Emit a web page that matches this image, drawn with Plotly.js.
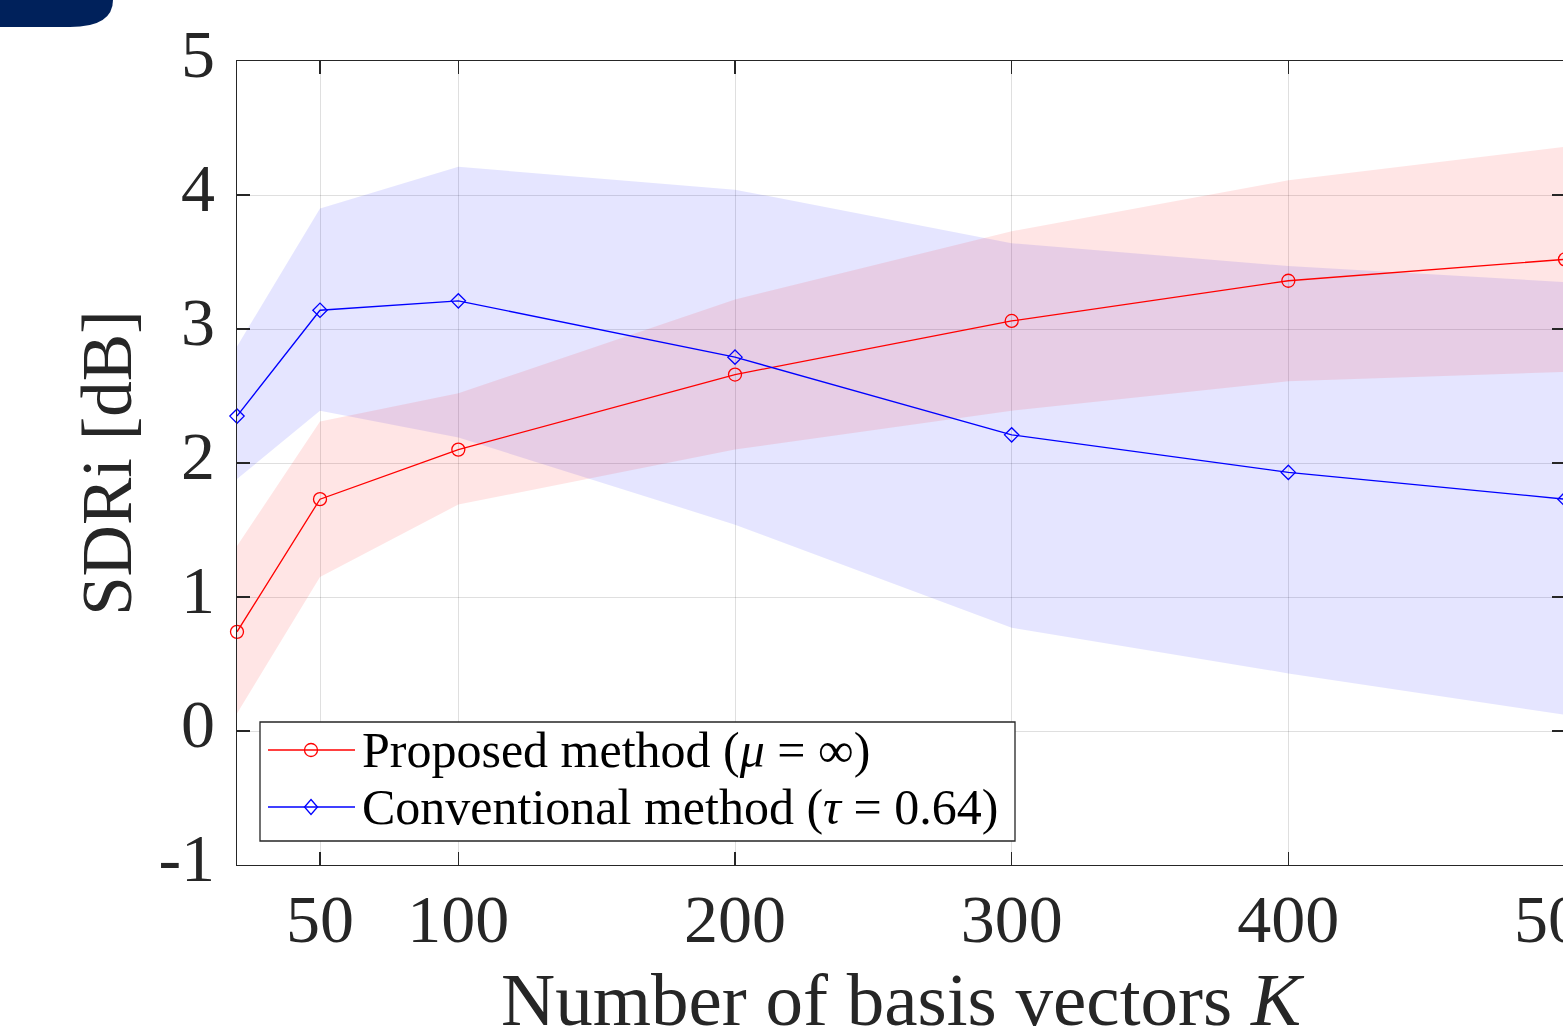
<!DOCTYPE html>
<html>
<head>
<meta charset="utf-8">
<script src="https://cdn.plot.ly/plotly-3.0.1.min.js"></script>
<style>
html, body { margin: 0; padding: 0; overflow: hidden; background: #fff; }
#chart { width: 1565px; height: 1060px; }
</style>
</head>
<body>
<div id="chart"></div>
<script>
// ---- data ----
const K = [20, 50, 100, 200, 300, 400, 500];

const proposedMean  = [0.74, 1.73, 2.10, 2.66, 3.06, 3.36, 3.52];
const proposedUpper = [1.38, 2.31, 2.52, 3.22, 3.73, 4.11, 4.36];
const proposedLower = [0.13, 1.15, 1.69, 2.10, 2.39, 2.61, 2.68];

const conventionalMean  = [2.35, 3.14, 3.21, 2.79, 2.21, 1.93, 1.73];
const conventionalUpper = [2.87, 3.90, 4.21, 4.04, 3.64, 3.47, 3.35];
const conventionalLower = [1.88, 2.39, 2.19, 1.54, 0.77, 0.43, 0.12];

const xTickVals = [50, 100, 200, 300, 400, 500];
const xTickText = ['50', '100', '200', '300', '400', '500'];
const yTickVals = [-1, 0, 1, 2, 3, 4, 5];
const yTickText = ['-1', '0', '1', '2', '3', '4', '5'];

const legendLabels = [
  'Proposed method (<i>μ</i> = ∞)',
  'Conventional method (<i>τ</i> = 0.64)'
];
const xTitle = 'Number of basis vectors <i>K</i>';
const yTitle = 'SDRi [dB]';

// ---- style ----
const FONT = 'Liberation Serif, Times New Roman, serif';
const AX = '#262626';
const RED = '#FF0000';
const BLUE = '#0000FF';

function band(xs, up, lo) {
  return { x: xs.concat(xs.slice().reverse()), y: up.concat(lo.slice().reverse()) };
}
const pb = band(K, proposedUpper, proposedLower);
const cb = band(K, conventionalUpper, conventionalLower);

const traces = [
  { x: cb.x, y: cb.y, type: 'scatter', mode: 'lines', fill: 'toself',
    fillcolor: 'rgba(0,0,255,0.1)', line: { width: 0 }, hoverinfo: 'skip', showlegend: false },
  { x: pb.x, y: pb.y, type: 'scatter', mode: 'lines', fill: 'toself',
    fillcolor: 'rgba(255,0,0,0.1)', line: { width: 0 }, hoverinfo: 'skip', showlegend: false },
  { x: K, y: proposedMean, type: 'scatter', mode: 'lines+markers', cliponaxis: false,
    line: { color: RED, width: 1.3 },
    marker: { symbol: 'circle-open', size: 13, color: RED, line: { width: 1.3, color: RED } },
    showlegend: false, hoverinfo: 'skip' },
  { x: K, y: conventionalMean, type: 'scatter', mode: 'lines+markers', cliponaxis: false,
    line: { color: BLUE, width: 1.3 },
    marker: { symbol: 'diamond-open', size: 11, color: BLUE, line: { width: 1.3, color: BLUE } },
    showlegend: false, hoverinfo: 'skip' }
];

// plot-area geometry in pixels (for legend box / decoration placement)
const W = 1565, H = 1060;
const L = 237, T = 61, PW = 1328, PH = 804;
const px = v => (v - L) / PW;
const py = v => (T + PH - v) / PH;

const legendRows = [
  { yc: 750, color: RED, kind: 'circle' },
  { yc: 807, color: BLUE, kind: 'diamond' }
];

const shapes = [
  // top-left badge decoration
  { type: 'path', xref: 'paper', yref: 'paper', layer: 'above',
    path: `M${px(0)},${py(0)} L${px(113)},${py(0)} Q${px(113)},${py(27)} ${px(70)},${py(27)} L${px(0)},${py(27)} Z`,
    fillcolor: '#00215B', line: { width: 0 } },
  // legend box
  { type: 'rect', xref: 'paper', yref: 'paper', layer: 'above',
    x0: px(260), x1: px(1015), y0: py(841), y1: py(722),
    fillcolor: '#FFFFFF', line: { color: AX, width: 1.3 } }
];
const annotations = [];
legendRows.forEach((r, i) => {
  shapes.push({ type: 'line', xref: 'paper', yref: 'paper', layer: 'above',
    x0: px(268), x1: px(355), y0: py(r.yc), y1: py(r.yc), line: { color: r.color, width: 1.3 } });
  if (r.kind === 'circle') {
    shapes.push({ type: 'circle', xref: 'paper', yref: 'paper', layer: 'above',
      xsizemode: 'pixel', ysizemode: 'pixel', xanchor: px(311), yanchor: py(r.yc),
      x0: -6.5, x1: 6.5, y0: -6.5, y1: 6.5, fillcolor: 'rgba(0,0,0,0)', line: { color: r.color, width: 1.3 } });
  } else {
    shapes.push({ type: 'path', xref: 'paper', yref: 'paper', layer: 'above',
      xsizemode: 'pixel', ysizemode: 'pixel', xanchor: px(311), yanchor: py(r.yc),
      path: 'M0,7.5 L6.5,0 L0,-7.5 L-6.5,0 Z', fillcolor: 'rgba(0,0,0,0)', line: { color: r.color, width: 1.3 } });
  }
  annotations.push({ xref: 'paper', yref: 'paper', x: px(360), y: py(r.yc),
    xanchor: 'left', yanchor: 'middle', showarrow: false, text: legendLabels[i],
    font: { family: FONT, size: 50, color: '#000000' } });
});

const layout = {
  width: W, height: H, autosize: false,
  margin: { l: L, r: W - L - PW, t: T, b: H - T - PH, pad: 0 },
  paper_bgcolor: '#FFFFFF', plot_bgcolor: '#FFFFFF',
  font: { family: FONT, color: AX },
  showlegend: false,
  xaxis: {
    range: [20, 500], tickmode: 'array', tickvals: xTickVals, ticktext: xTickText,
    ticks: 'inside', ticklen: 13, tickwidth: 1.3, tickcolor: AX,
    showline: true, linecolor: AX, linewidth: 1.3, mirror: 'ticks',
    showgrid: true, gridcolor: 'rgba(38,38,38,0.15)', gridwidth: 1, zeroline: false,
    tickfont: { family: FONT, size: 68, color: AX }, ticklabelstandoff: -6,
    ticklabeloverflow: 'allow',
    title: { text: xTitle, font: { family: FONT, size: 75, color: AX }, standoff: 16 },
    automargin: false, fixedrange: true
  },
  yaxis: {
    range: [-1, 5], tickmode: 'array', tickvals: yTickVals, ticktext: yTickText,
    ticks: 'inside', ticklen: 13, tickwidth: 1.3, tickcolor: AX,
    showline: true, linecolor: AX, linewidth: 1.3, mirror: 'ticks',
    showgrid: true, gridcolor: 'rgba(38,38,38,0.15)', gridwidth: 1, zeroline: false,
    tickfont: { family: FONT, size: 68, color: AX }, ticklabelstandoff: 7,
    ticklabelshift: -8, ticklabeloverflow: 'allow',
    title: { text: yTitle, font: { family: FONT, size: 71, color: AX }, standoff: 3 },
    automargin: false, fixedrange: true
  },
  shapes: shapes,
  annotations: annotations
};

Plotly.newPlot('chart', traces, layout, { displayModeBar: false, staticPlot: true });
</script>
</body>
</html>
